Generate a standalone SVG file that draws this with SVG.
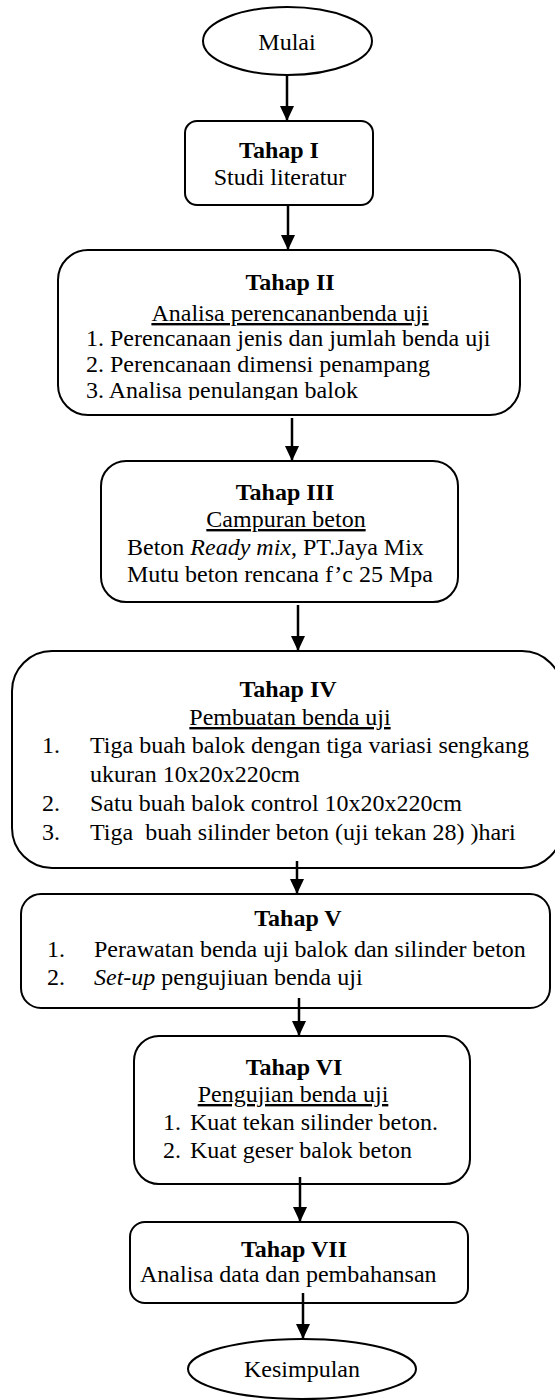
<svg xmlns="http://www.w3.org/2000/svg" width="555" height="1400" viewBox="0 0 555 1400">
<style>
text{font-family:"Liberation Serif","Times New Roman",serif;font-size:24px;fill:#000}
.b{font-weight:bold}
.c{text-anchor:middle}
.u{text-decoration:underline}
.i{font-style:italic}
.box{fill:#fff;stroke:#000;stroke-width:2}
.conn line{stroke:#000;stroke-width:2.5;marker-end:url(#ah)}
</style>
<defs>
<marker id="ah" markerUnits="userSpaceOnUse" markerWidth="15" markerHeight="14" refX="15" refY="7" orient="auto">
<path d="M0,0 L15,7 L0,14 z" fill="#000"/>
</marker>
<clipPath id="clip2"><rect x="58" y="250" width="462" height="150"/></clipPath>
</defs>

<g id="mulai">
<ellipse class="box" cx="287.5" cy="41" rx="84.5" ry="34"/>
<text class="c" x="287" y="50">Mulai</text>
</g>

<g id="tahap1">
<rect class="box" x="185" y="121" width="188" height="84" rx="12"/>
<text class="b c" x="279" y="158">Tahap I</text>
<text class="c" x="280" y="185">Studi literatur</text>
</g>

<g id="tahap2">
<rect class="box" x="58" y="250" width="462" height="165" rx="30"/>
<text class="b c" x="290" y="290">Tahap II</text>
<text class="c u" x="290" y="321">Analisa perencananbenda uji</text>
<text x="86" y="346">1. Perencanaan jenis dan jumlah benda uji</text>
<text x="86" y="372">2. Perencanaan dimensi penampang</text>
<text x="86" y="398" clip-path="url(#clip2)">3. Analisa penulangan balok</text>
</g>

<g id="tahap3">
<rect class="box" x="101" y="461" width="357" height="141" rx="25"/>
<text class="b c" x="285" y="500">Tahap III</text>
<text class="c u" x="286" y="527">Campuran beton</text>
<text x="127" y="555">Beton <tspan class="i">Ready mix</tspan>, PT.Jaya Mix</text>
<text x="127" y="582">Mutu beton rencana f’c 25 Mpa</text>
</g>

<g id="tahap4">
<rect class="box" x="12" y="651" width="550" height="217" rx="40"/>
<text class="b c" x="288" y="697">Tahap IV</text>
<text class="c u" x="290" y="725">Pembuatan benda uji</text>
<text x="42" y="753">1.</text>
<text x="90" y="753">Tiga buah balok dengan tiga variasi sengkang</text>
<text x="90" y="782">ukuran 10x20x220cm</text>
<text x="42" y="811">2.</text>
<text x="90" y="811">Satu buah balok control 10x20x220cm</text>
<text x="42" y="840">3.</text>
<text x="90" y="840" xml:space="preserve" style="white-space:pre">Tiga  buah silinder beton (uji tekan 28) )hari</text>
</g>

<g id="tahap5">
<rect class="box" x="21" y="894" width="529" height="114" rx="20"/>
<text class="b c" x="298" y="926">Tahap V</text>
<text x="47" y="957">1.</text>
<text x="94" y="957">Perawatan benda uji balok dan silinder beton</text>
<text x="47" y="985">2.</text>
<text x="94" y="985"><tspan class="i">Set-up</tspan> pengujiuan benda uji</text>
</g>

<g id="tahap6">
<rect class="box" x="134" y="1036" width="336" height="148" rx="25"/>
<text class="b c" x="294" y="1075">Tahap VI</text>
<text class="c u" x="293" y="1102">Pengujian benda uji</text>
<text x="163" y="1130">1.</text>
<text x="190" y="1130">Kuat tekan silinder beton.</text>
<text x="163" y="1158">2.</text>
<text x="190" y="1158">Kuat geser balok beton</text>
</g>

<g id="tahap7">
<rect class="box" x="130" y="1222" width="338" height="81" rx="15"/>
<text class="b c" x="294" y="1257">Tahap VII</text>
<text x="140" y="1282">Analisa data dan pembahansan</text>
</g>

<g id="kesimpulan">
<ellipse class="box" cx="302" cy="1369" rx="114" ry="30"/>
<text class="c" x="302" y="1377">Kesimpulan</text>
</g>

<g id="connectors" class="conn">
<line x1="287" y1="75" x2="287" y2="121"/>
<line x1="288" y1="205" x2="288" y2="250"/>
<line x1="292" y1="418" x2="292" y2="461"/>
<line x1="298" y1="605" x2="298" y2="651"/>
<line x1="297" y1="861" x2="297" y2="894"/>
<line x1="299" y1="998" x2="299" y2="1036"/>
<line x1="300" y1="1177" x2="300" y2="1222"/>
<line x1="303" y1="1293" x2="303" y2="1339"/>
</g>
</svg>
